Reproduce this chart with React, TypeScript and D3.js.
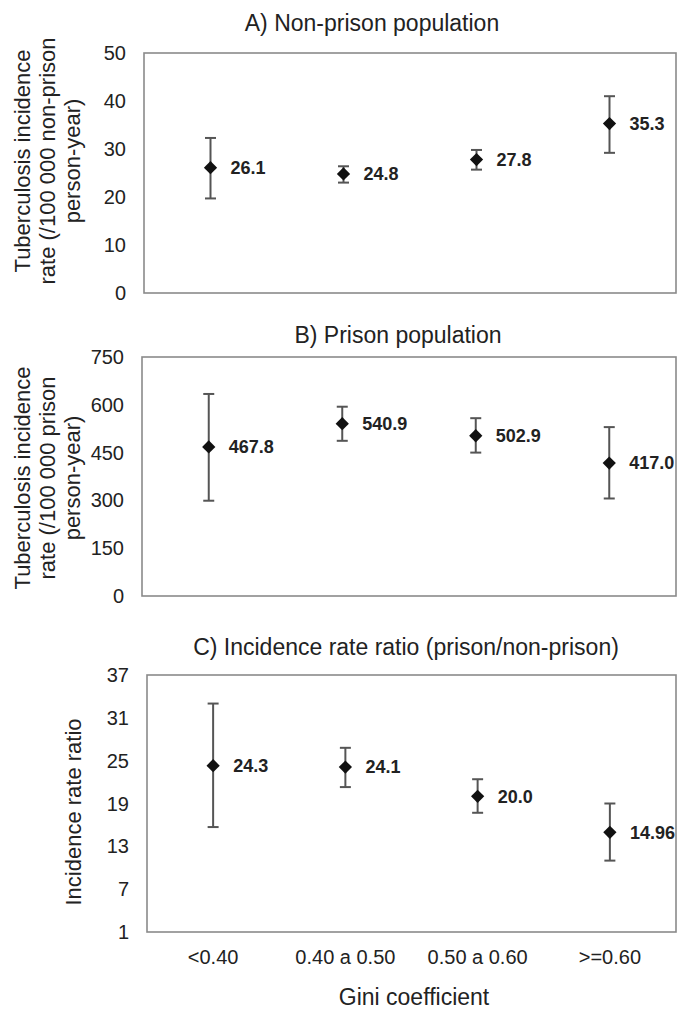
import React from 'react';
import * as d3 from 'd3';

const categories = ["<0.40", "0.40 a 0.50", "0.50 a 0.60", ">=0.60"];

const nonPrisonRate = [26.1, 24.8, 27.8, 35.3];
const nonPrisonLow = [19.7, 23.0, 25.7, 29.2];
const nonPrisonHigh = [32.3, 26.4, 29.8, 41.0];
const nonPrisonLabels = ["26.1", "24.8", "27.8", "35.3"];
const nonPrisonTicks = [0, 10, 20, 30, 40, 50];

const prisonRate = [467.8, 540.9, 502.9, 417.0];
const prisonLow = [299, 487, 450, 306];
const prisonHigh = [634, 594, 558, 530];
const prisonLabels = ["467.8", "540.9", "502.9", "417.0"];
const prisonTicks = [0, 150, 300, 450, 600, 750];

const ratioRate = [24.3, 24.1, 20.0, 14.96];
const ratioLow = [15.7, 21.3, 17.7, 11.0];
const ratioHigh = [33.0, 26.8, 22.4, 19.0];
const ratioLabels = ["24.3", "24.1", "20.0", "14.96"];
const ratioTicks = [1, 7, 13, 19, 25, 31, 37];

const FONT = "'Liberation Sans', Arial, Helvetica, sans-serif";

const panels = [
  {
    title: "A) Non-prison population", titleX: 372, titleY: 23,
    yTitle: ["Tuberculosis incidence", "rate  (/100 000 non-prison", "person-year)"], yTitleY: 161,
    top: 53, bottom: 293, left: 144,
    rate: nonPrisonRate, low: nonPrisonLow, high: nonPrisonHigh, labels: nonPrisonLabels, ticks: nonPrisonTicks,
  },
  {
    title: "B) Prison population", titleX: 398, titleY: 335,
    yTitle: ["Tuberculosis incidence", "rate  (/100 000 prison", "person-year)"], yTitleY: 478,
    top: 357, bottom: 596, left: 142,
    rate: prisonRate, low: prisonLow, high: prisonHigh, labels: prisonLabels, ticks: prisonTicks,
  },
  {
    title: "C) Incidence rate ratio (prison/non-prison)", titleX: 406, titleY: 647,
    yTitle: ["Incidence rate ratio"], yTitleY: 812,
    top: 675, bottom: 932, left: 147,
    rate: ratioRate, low: ratioLow, high: ratioHigh, labels: ratioLabels, ticks: ratioTicks,
  },
];

const RIGHT = 676;

function Panel({ p, showX }) {
  const x = d3.scaleBand().domain(categories).range([p.left, RIGHT]);
  const y = d3.scaleLinear().domain([p.ticks[0], p.ticks[p.ticks.length - 1]]).range([p.bottom, p.top]);
  // square turned 45 degrees gives the flat diamond marker
  const diamond = d3.symbol().type(d3.symbolSquare).size(88);
  const lineXs = p.yTitle.length === 1 ? [73] : [22, 47, 72];

  return (
    <g>
      <text x={p.titleX} y={p.titleY} dy="0.35em" textAnchor="middle" fontSize={23} fill="#222">{p.title}</text>
      {p.yTitle.map((t, i) => (
        <text key={i} transform={`translate(${lineXs[i]},${p.yTitleY}) rotate(-90)`} dy="0.35em"
          textAnchor="middle" fontSize={22} fill="#222">{t}</text>
      ))}
      <rect x={p.left} y={p.top} width={RIGHT - p.left} height={p.bottom - p.top}
        fill="none" stroke="#8a8a8a" strokeWidth={1.6} />
      {p.ticks.map(t => (
        <text key={t} x={p.left - 18} y={y(t)} dy="0.35em" textAnchor="end" fontSize={20} fill="#222">{t}</text>
      ))}
      {categories.map((c, i) => {
        const cx = x(c) + x.bandwidth() / 2;
        return (
          <g key={c}>
            <line x1={cx} x2={cx} y1={y(p.low[i])} y2={y(p.high[i])} stroke="#555" strokeWidth={2} />
            <line x1={cx - 5.5} x2={cx + 5.5} y1={y(p.low[i])} y2={y(p.low[i])} stroke="#555" strokeWidth={2} />
            <line x1={cx - 5.5} x2={cx + 5.5} y1={y(p.high[i])} y2={y(p.high[i])} stroke="#555" strokeWidth={2} />
            <path d={diamond()} transform={`translate(${cx},${y(p.rate[i])}) rotate(45)`} fill="#111" />
            <text x={cx + 20} y={y(p.rate[i])} dy="0.35em" fontSize={18} fontWeight="bold" fill="#222">{p.labels[i]}</text>
          </g>
        );
      })}
      {showX && categories.map(c => (
        <text key={c} x={x(c) + x.bandwidth() / 2} y={957} dy="0.35em" textAnchor="middle" fontSize={20} fill="#222">{c}</text>
      ))}
    </g>
  );
}

export default function App() {
  return (
    <svg width={677} height={1010} style={{ position: 'absolute', left: 0, top: 0, background: '#fff' }}
      fontFamily={FONT}>
      <rect width={677} height={1010} fill="#fff" />
      {panels.map((p, i) => <Panel key={i} p={p} showX={i === 2} />)}
      <text x={414} y={997} dy="0.35em" textAnchor="middle" fontSize={23} fill="#222">Gini coefficient</text>
    </svg>
  );
}
